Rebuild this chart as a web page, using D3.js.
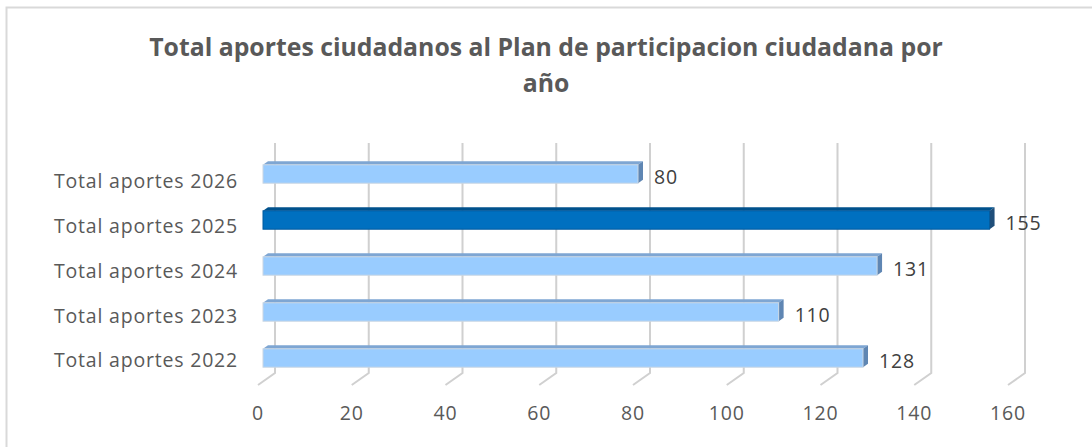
<!DOCTYPE html>
<html>
<head>
<meta charset="utf-8">
<script src="https://cdn.jsdelivr.net/npm/d3@7"></script>
<style>
  body { margin: 0; background: #fff; }
  text { font-family: "Open Sans", sans-serif; fill: #595959; }
</style>
</head>
<body>
<svg width="1092" height="447"></svg>
<script>
// data
var categories = ["Total aportes 2026", "Total aportes 2025", "Total aportes 2024", "Total aportes 2023", "Total aportes 2022"];
var values = [80, 155, 131, 110, 128];
var ticks = [0, 20, 40, 60, 80, 100, 120, 140, 160];
var highlight = "Total aportes 2025";

var svg = d3.select("svg");

// outer frame
svg.append("rect")
    .attr("x", 6.5).attr("y", 7.5)
    .attr("width", 1200).attr("height", 600)
    .attr("fill", "none")
    .attr("stroke", "#d9d9d9")
    .attr("stroke-width", 2);

// title
var title = svg.append("text")
    .attr("text-anchor", "middle")
    .style("font-weight", "bold")
    .style("font-size", "24.8px");
title.append("tspan").attr("x", 546).attr("y", 56)
    .text("Total aportes ciudadanos al Plan de participacion ciudadana por");
title.append("tspan").attr("x", 546).attr("y", 92).text("año");

var x = d3.scaleLinear().domain([0, 160]).range([263, 1013]);
var y = d3.scaleBand().domain(categories).range([151, 381]).paddingInner(0.6).paddingOuter(0.3);

var back = {dx: 12}, front = {dx: -5};
var gridTop = 143, gridBottom = 373, floorY = 385;

// gridlines (back wall + floor)
var grid = svg.append("g");
ticks.forEach(function(t) {
  var xb = x(t) + back.dx, xf = x(t) + front.dx;
  grid.append("path")
      .attr("d", "M" + xb + "," + gridTop + "V" + gridBottom + "L" + xf + "," + floorY)
      .attr("fill", "none")
      .attr("stroke", "#d0d0d0")
      .attr("stroke-width", 2);
});

// tick labels
svg.append("g").selectAll("text")
    .data(ticks)
  .enter().append("text")
    .attr("x", function(d) { return x(d) + front.dx; })
    .attr("y", 413)
    .attr("dy", "0.35em")
    .attr("text-anchor", "middle")
    .style("font-size", "19.5px")
    .style("letter-spacing", "0.8px")
    .text(function(d) { return d; });

// category labels
svg.append("g").selectAll("text")
    .data(categories)
  .enter().append("text")
    .attr("x", 238)
    .attr("y", function(d, i) { return y(d) + y.bandwidth() / 2 + 7 - i * 1.1; })
    .attr("dy", "0.35em")
    .attr("text-anchor", "end")
    .style("font-size", "19.5px")
    .style("letter-spacing", "0.8px")
    .text(function(d) { return d; });

// bars
var dep = {dx: 5, dy: -3.5};
var bars = svg.append("g").selectAll("g")
    .data(categories.map(function(c, i) { return {cat: c, val: values[i]}; }))
  .enter().append("g");

function col(d, light, dark) { return d.cat === highlight ? dark : light; }

bars.append("path")  // top face
    .attr("d", function(d) {
      var y0 = y(d.cat), x0 = x(0), x1 = x(d.val);
      return "M" + x0 + "," + y0 + "L" + (x0 + dep.dx) + "," + (y0 + dep.dy) +
             "L" + (x1 + dep.dx) + "," + (y0 + dep.dy) + "L" + x1 + "," + y0 + "Z";
    })
    .attr("fill", function(d) { return col(d, "#7ea6d3", "#00518c"); });

bars.append("path")  // right face
    .attr("d", function(d) {
      var y0 = y(d.cat), y1 = y0 + y.bandwidth(), x1 = x(d.val);
      return "M" + x1 + "," + y0 + "L" + (x1 + dep.dx) + "," + (y0 + dep.dy) +
             "L" + (x1 + dep.dx) + "," + (y1 + dep.dy) + "L" + x1 + "," + y1 + "Z";
    })
    .attr("fill", function(d) { return col(d, "#5f86b3", "#1f4e79"); });

bars.append("rect")  // front face
    .attr("x", x(0))
    .attr("y", function(d) { return y(d.cat); })
    .attr("width", function(d) { return x(d.val) - x(0); })
    .attr("height", y.bandwidth())
    .attr("fill", function(d) { return col(d, "#99ccff", "#0070c0"); })
    .attr("stroke", function(d) { return col(d, "#c9d6e3", "#005a9e"); })
    .attr("stroke-width", 1);

// value labels
bars.append("text")
    .attr("x", function(d) { return x(d.val) + 16; })
    .attr("y", function(d) { return y(d.cat) + y.bandwidth() / 2 + 3; })
    .attr("dy", "0.35em")
    .style("font-size", "19.5px")
    .style("letter-spacing", "0.8px")
    .style("fill", "#404040")
    .text(function(d) { return d.val; });
</script>
</body>
</html>
